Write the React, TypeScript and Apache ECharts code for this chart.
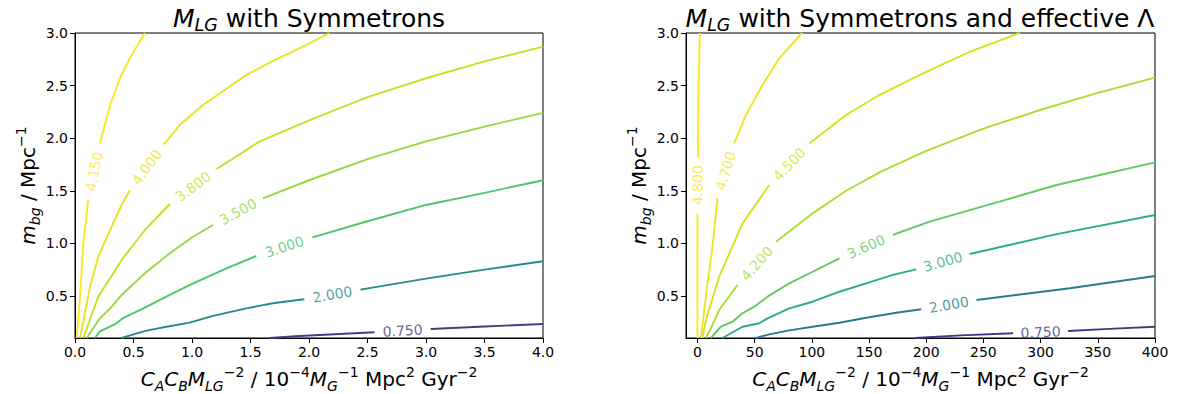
import React, { useEffect, useRef } from "react";
import * as echarts from "echarts";

type Pt = [number, number] | null;

// ---------- Left panel: M_LG with Symmetrons ----------
const LEFT_LEVELS = [0.75, 2.0, 3.0, 3.5, 3.8, 4.0, 4.15];
const LEFT_COLORS = ["#433e84", "#228c8d", "#50c46a", "#97d83f", "#c8e022", "#e7e41c", "#fde725"];
const L_0750: Pt[] = [[1.66, 0.1], [1.92, 0.119], [2.56, 0.154], null, [3.04, 0.186], [3.5, 0.21], [4.0, 0.233]];
const L_2000: Pt[] = [[0.398, 0.1], [0.5, 0.135], [0.611, 0.17], [0.782, 0.207], [0.98, 0.246], [1.18, 0.31], [1.464, 0.382], [1.69, 0.43], [1.96, 0.468], null, [2.44, 0.56], [3.0, 0.665], [3.5, 0.75], [4.0, 0.83]];
const L_3000: Pt[] = [[0.17, 0.1], [0.21, 0.16], [0.355, 0.24], [0.41, 0.29], [0.58, 0.38], [0.81, 0.51], [1.01, 0.62], [1.29, 0.76], [1.55, 0.88], null, [2.03, 1.057], [2.5, 1.21], [3.0, 1.365], [3.5, 1.48], [4.0, 1.6]];
const L_3500: Pt[] = [[0.1, 0.1], [0.213, 0.287], [0.3, 0.38], [0.398, 0.509], [0.597, 0.715], [0.81, 0.905], [1.009, 1.063], [1.18, 1.174], null, [1.606, 1.428], [2.0, 1.6], [2.5, 1.8], [3.0, 1.97], [3.5, 2.11], [4.0, 2.24]];
const L_3800: Pt[] = [[0.071, 0.1], [0.199, 0.493], [0.398, 0.84], [0.597, 1.127], [0.81, 1.374], null, [1.21, 1.707], [1.58, 1.97], [2.0, 2.17], [2.5, 2.39], [3.0, 2.57], [3.5, 2.73], [4.0, 2.87]];
const L_4000: Pt[] = [[0.043, 0.1], [0.128, 0.588], [0.199, 0.873], [0.3, 1.127], [0.398, 1.365], [0.469, 1.507], null, [0.759, 1.94], [0.895, 2.125], [1.094, 2.315], [1.464, 2.6], [1.7, 2.74], [1.92, 2.855], [2.175, 3.0]];
const L_4150: Pt[] = [[0.014, 0.1], [0.043, 0.49], [0.071, 1.0], [0.114, 1.42], null, [0.213, 1.95], [0.3, 2.315], [0.384, 2.57], [0.469, 2.76], [0.597, 3.0]];
const LEFT_CURVES = [L_0750, L_2000, L_3000, L_3500, L_3800, L_4000, L_4150];

// ---------- Right panel: with effective Lambda ----------
const RIGHT_LEVELS = [0.75, 2.0, 3.0, 3.6, 4.2, 4.5, 4.7, 4.8];
const RIGHT_COLORS = ["#453681", "#287c8e", "#28ae80", "#5ec962", "#acdc31", "#d7e21c", "#f0e520", "#fde725"];
const R_0750: Pt[] = [[190, 0.1], [230, 0.125], [276, 0.145], null, [324, 0.167], [360, 0.187], [400, 0.207]];
const R_2000: Pt[] = [[51.1, 0.1], [62.8, 0.135], [80.3, 0.173], [100.7, 0.207], [124.1, 0.245], [147.5, 0.293], [173.8, 0.34], [195.7, 0.373], null, [243.9, 0.461], [325.6, 0.573], [400, 0.69]];
const R_3000: Pt[] = [[21.9, 0.1], [39.4, 0.207], [54, 0.24], [61.3, 0.287], [80.3, 0.382], [100.7, 0.445], [124.1, 0.54], [147.5, 0.62], [170.8, 0.7], [191.3, 0.753], null, [238, 0.899], [311, 1.08], [400, 1.27]];
const R_3600: Pt[] = [[11.7, 0.1], [20.5, 0.207], [30.7, 0.255], [39.4, 0.335], [49.7, 0.398], [61.3, 0.493], [80.3, 0.62], [100.7, 0.73], [124.1, 0.858], null, [170.8, 1.08], [203, 1.206], [264, 1.396], [313.9, 1.555], [400, 1.77]];
const R_4200: Pt[] = [[7.4, 0.1], [11.7, 0.192], [19, 0.366], [35, 0.604], null, [68.7, 1.016], [100, 1.28], [130, 1.5], [160, 1.68], [200, 1.88], [250, 2.09], [300, 2.27], [350, 2.43], [400, 2.575]];
const R_4500: Pt[] = [[4.4, 0.1], [7.4, 0.27], [19, 0.683], [39.4, 1.19], [62.8, 1.555], null, [97.8, 1.95], [130, 2.22], [159, 2.41], [194, 2.6], [237.9, 2.82], [281.6, 3.0]];
const R_4700: Pt[] = [[3.0, 0.1], [8.8, 0.62], [13.1, 0.968], [17.5, 1.428], null, [32.1, 1.95], [42.4, 2.22], [56.9, 2.506], [71.6, 2.76], [91.4, 3.0]];
const R_4800: Pt[] = [[0, 0.1], [0, 0.7], [0.05, 1.286], null, [0.35, 1.82], [0.9, 2.44], [2.1, 3.0]];
const RIGHT_CURVES = [R_0750, R_2000, R_3000, R_3600, R_4200, R_4500, R_4700, R_4800];

// ---------- Axes ----------
const LEFT_X_TICKS = [0, 0.5, 1, 1.5, 2, 2.5, 3, 3.5, 4];
const RIGHT_X_TICKS = [0, 50, 100, 150, 200, 250, 300, 350, 400];
const Y_TICKS = [0.5, 1.0, 1.5, 2.0, 2.5, 3.0];

const FONT = "DejaVu Sans";

const richStyles = (size: number, lh: number) => ({
  i: { fontStyle: "italic", fontSize: size, lineHeight: lh, fontFamily: FONT, color: "#000" },
  sub: { fontStyle: "italic", fontSize: size * 0.7, lineHeight: size * 0.7, verticalAlign: "bottom", fontFamily: FONT, color: "#000" },
  sup: { fontSize: size * 0.7, lineHeight: size * 0.7, verticalAlign: "top", fontFamily: FONT, color: "#000" },
});

const X_NAME = "{i|C}{sub|A}{i|C}{sub|B}{i|M}{sub|LG}{sup|−2} / 10{sup|−4}{i|M}{sub|G}{sup|−1} Mpc{sup|2} Gyr{sup|−2}";
const Y_NAME = "{i|m}{sub|bg} / Mpc{sup|−1}";

function split(points: Pt[]): [number, number][][] {
  const segs: [number, number][][] = [];
  let cur: [number, number][] = [];
  points.forEach((p) => {
    if (p === null) {
      if (cur.length) segs.push(cur);
      cur = [];
    } else cur.push(p);
  });
  if (cur.length) segs.push(cur);
  return segs;
}

function makeAxes(g: number, xmin: number, xmax: number, ticks: number[], fmt: (v: number) => string) {
  const xAxis = {
    type: "value",
    gridIndex: g,
    min: xmin,
    max: xmax,
    axisLine: { show: true, onZero: false, lineStyle: { color: "#000", width: 1 } },
    axisTick: { show: true, inside: false, length: 5, customValues: ticks, lineStyle: { color: "#000", width: 1 } },
    axisLabel: { show: true, customValues: ticks, formatter: fmt, color: "#000", fontSize: 14, fontFamily: FONT, margin: 7 },
    splitLine: { show: false },
    name: X_NAME,
    nameLocation: "middle",
    nameGap: 27,
    nameTextStyle: { fontSize: 20, lineHeight: 28, color: "#000", fontFamily: FONT, rich: richStyles(20, 28) },
  };
  const yAxis = {
    type: "value",
    gridIndex: g,
    min: 0.1,
    max: 3.0,
    axisLine: { show: true, onZero: false, lineStyle: { color: "#000", width: 1 } },
    axisTick: { show: true, inside: false, length: 5, customValues: Y_TICKS, lineStyle: { color: "#000", width: 1 } },
    axisLabel: { show: true, customValues: Y_TICKS, formatter: (v: number) => v.toFixed(1), color: "#000", fontSize: 14, fontFamily: FONT, margin: 7 },
    splitLine: { show: false },
    name: Y_NAME,
    nameLocation: "middle",
    nameRotate: 90,
    nameGap: 32,
    nameTextStyle: { fontSize: 20, lineHeight: 28, color: "#000", fontFamily: FONT, rich: richStyles(20, 28) },
  };
  return { xAxis, yAxis };
}

export default function App() {
  const ref = useRef<HTMLDivElement>(null);
  useEffect(() => {
    if (!ref.current) return;
    const chart = echarts.init(ref.current, undefined, { renderer: "svg" });

    const panels = [
      { g: 0, levels: LEFT_LEVELS, colors: LEFT_COLORS, curves: LEFT_CURVES },
      { g: 1, levels: RIGHT_LEVELS, colors: RIGHT_COLORS, curves: RIGHT_CURVES },
    ];

    const lineSeries: any[] = [];
    panels.forEach((p) => {
      p.curves.forEach((curve, k) => {
        split(curve).forEach((seg) => {
          lineSeries.push({
            type: "line",
            xAxisIndex: p.g,
            yAxisIndex: p.g,
            data: seg,
            symbol: "none",
            showSymbol: false,
            silent: true,
            lineStyle: { color: p.colors[k], width: 1.9 },
            z: 2,
          });
        });
      });
    });

    const a0 = makeAxes(0, 0, 4, LEFT_X_TICKS, (v: number) => v.toFixed(1));
    const a1 = makeAxes(1, -10, 400, RIGHT_X_TICKS, (v: number) => String(v));

    const titleRich = richStyles(25, 32);
    const titleText = (txt: string, x: number) => ({
      type: "text",
      x,
      y: 18,
      style: {
        text: txt,
        fill: "#000",
        fontSize: 25,
        lineHeight: 32,
        fontFamily: FONT,
        align: "center",
        verticalAlign: "middle",
        rich: titleRich,
      },
    });

    const gridBase = {
      top: 33,
      height: 305,
      width: 468,
      show: true,
      borderColor: "#000",
      borderWidth: 1,
      backgroundColor: "#fff",
      containLabel: false,
      outerBoundsMode: "none",
    };

    const option: any = {
      animation: false,
      textStyle: { fontFamily: FONT },
      grid: [
        { ...gridBase, left: 75 },
        { ...gridBase, left: 686, width: 469 },
      ],
      xAxis: [a0.xAxis, a1.xAxis],
      yAxis: [a0.yAxis, a1.yAxis],
      graphic: [
        titleText("{i|M}{sub|LG} with Symmetrons", 309),
        titleText("{i|M}{sub|LG} with Symmetrons and effective Λ", 920),
      ],
      series: lineSeries,
    };
    chart.setOption(option);

    // contour labels, placed in the gap of each contour, rotated along the line
    const labelSeries: any[] = [];
    panels.forEach((p) => {
      p.curves.forEach((curve, k) => {
        const i = curve.indexOf(null);
        if (i < 1) return;
        const a = curve[i - 1] as [number, number];
        const b = curve[i + 1] as [number, number];
        const mid: [number, number] = [(a[0] + b[0]) / 2, (a[1] + b[1]) / 2];
        const pa = chart.convertToPixel({ gridIndex: p.g } as any, a) as number[];
        const pb = chart.convertToPixel({ gridIndex: p.g } as any, b) as number[];
        let deg = (Math.atan2(pa[1] - pb[1], pb[0] - pa[0]) * 180) / Math.PI;
        if (deg > 90) deg -= 180;
        if (deg < -90) deg += 180;
        labelSeries.push({
          type: "scatter",
          xAxisIndex: p.g,
          yAxisIndex: p.g,
          symbol: "circle",
          symbolSize: 1,
          silent: true,
          itemStyle: { color: "rgba(0,0,0,0)" },
          z: 5,
          label: {
            show: true,
            position: "inside",
            rotate: deg,
            formatter: p.levels[k].toFixed(3),
            color: p.colors[k],
            fontSize: 14,
            fontFamily: FONT,
          },
          labelLayout: { hideOverlap: false },
          data: [mid],
        });
      });
    });
    chart.setOption({ series: [...lineSeries, ...labelSeries] });

    return () => chart.dispose();
  }, []);
  return <div ref={ref} style={{ position: "fixed", left: 0, top: 0, width: 1181, height: 394, background: "#fff" }} />;
}
